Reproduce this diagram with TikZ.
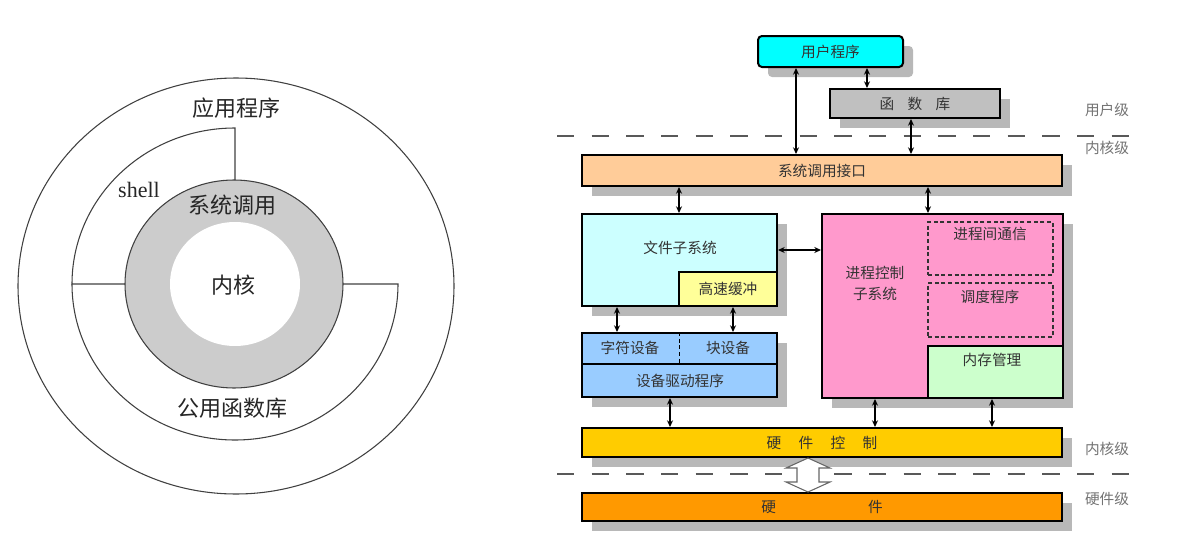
\documentclass[tikz,border=0pt]{standalone}
\usepackage{fontspec}
\setmainfont{Noto Sans CJK SC}
\newfontfamily\serifen{Liberation Serif}
\usetikzlibrary{calc,fit,shadows,arrows.meta}
\definecolor{ringgray}{RGB}{204,204,204}
\definecolor{cuser}{RGB}{0,255,255}
\definecolor{cgray}{RGB}{192,192,192}
\definecolor{cpeach}{RGB}{255,204,153}
\definecolor{clcyan}{RGB}{204,255,255}
\definecolor{cyellow}{RGB}{255,255,153}
\definecolor{cpink}{RGB}{255,153,204}
\definecolor{cgreen}{RGB}{204,255,204}
\definecolor{cblue}{RGB}{153,204,255}
\definecolor{cgold}{RGB}{255,204,0}
\definecolor{corange}{RGB}{255,153,0}
\begin{document}
\begin{tikzpicture}[x=0.75pt,y=-0.75pt,
  box/.style={draw=black, line width=1.5pt, inner sep=0pt},
  shad/.style={drop shadow={shadow xshift=7.5pt,shadow yshift=-7.5pt,fill=black!28,opacity=1}},
  lbl/.style={text=black!80, font=\fontsize{11}{15.75}\selectfont, inner sep=0pt},
  lvl/.style={text=black!55, font=\fontsize{11}{13}\selectfont, inner sep=0pt},
  arr/.style={{Stealth[length=5pt,width=4.5pt]}-{Stealth[length=5pt,width=4.5pt]}, line width=1pt},
  sep/.style={draw=black!65, line width=2.2pt, dash pattern=on 13pt off 13pt},
  dbox/.style={draw=black!80, line width=1.2pt, dash pattern=on 3pt off 2pt, inner sep=0pt},
  ring/.style={draw=black!75, line width=0.8pt},
  big/.style={font=\fontsize{16.5}{18}\selectfont, text=black!85, inner sep=0pt},
  blockarr/.style={draw=black!60, fill=white, line width=0.8pt}
]
\useasboundingbox (0,0) rectangle (1183,546);
% ---------- left: onion diagram ----------
\draw[ring] (236,286) ellipse [x radius=218, y radius=208];
\draw[ring, fill=ringgray] (234,284) ellipse [x radius=109, y radius=104];
\fill[white] (235,284) ellipse [x radius=65, y radius=62];
\draw[ring] (125,284) -- (72,284) arc[start angle=180, end angle=270, x radius=163, y radius=156] -- (235,180);
\draw[ring] (72,284) arc[start angle=180, end angle=0, x radius=163, y radius=156] -- (343,284);
\node[big] (app) at (236,108) {应用程序};
\node[font=\serifen\fontsize{16.5}{18}\selectfont, text=black!85, inner sep=0pt] (shell) at (139,190) {shell};
\node[big] (sys) at (232,205) {系统调用};
\node[big] (kern) at (233,285) {内核};
\node[big] (plib) at (232,408) {公用函数库};
% ---------- right: layered structure ----------
\draw[sep] (557,136) -- (1142,136);
\draw[sep] (557,474) -- (1142,474);
\node[lvl] (l1) at (1107,110) {用户级};
\node[lvl] (l2) at (1107,148) {内核级};
\node[lvl] (l3) at (1107,449) {内核级};
\node[lvl] (l4) at (1107,499) {硬件级};

\node[box, shad, fill=cuser, rounded corners=3pt, fit={(758,36)(903,67)}] (up) {};
\node[lbl] (upt) at (up.center) {用户程序};
\node[box, shad, fill=cgray, fit={(830,89)(1000,118)}] (flib) {};
\node[lbl] (flibt) at (flib.center) {函\hspace{10pt}数\hspace{10pt}库};
\node[box, shad, fill=cpeach, fit={(582,155)(1062,186)}] (sci) {};
\node[lbl] (scit) at (sci.center) {系统调用接口};
\node[box, shad, fill=clcyan, fit={(582,214)(777,306)}] (fs) {};
\node[lbl] (fst) at (680,248) {文件子系统};
\node[box, fill=cyellow, fit={(679,272)(777,306)}] (buf) {};
\node[lbl] (buft) at (buf.center) {高速缓冲};
\node[box, shad, fill=cpink, fit={(822,214)(1063,398)}] (pc) {};
\node[lbl, align=center] (pct) at (875,283) {进程控制\\子系统};
\node[dbox, fit={(928,222)(1053,275)}] (ipc) {};
\node[lbl] (ipct) at (990,234) {进程间通信};
\node[dbox, fit={(928,283)(1053,337)}] (sch) {};
\node[lbl] (scht) at (990,297) {调度程序};
\node[box, fill=cgreen, fit={(928,346)(1063,398)}] (mem) {};
\node[lbl] (memt) at (992,360) {内存管理};
\node[box, shad, fill=cblue, fit={(582,333)(777,397)}] (dev) {};
\draw[line width=1.5pt] (dev.west |- 0,364) -- (dev.east |- 0,364);
\draw[line width=1pt, dash pattern=on 3pt off 2pt] (dev.north) -- (dev.north |- 0,364);
\node[lbl] (chr) at (630,348) {字符设备};
\node[lbl] (blk) at (728,348) {块设备};
\node[lbl] (drv) at (680,381) {设备驱动程序};
\node[box, shad, fill=cgold, fit={(582,428)(1062,457)}] (hc) {};
\node[lbl] (hct) at (hc.center) {硬\hspace{13pt}件\hspace{13pt}控\hspace{13pt}制};
\node[box, shad, fill=corange, fit={(582,493)(1062,521)}] (hw) {};
\node[lbl] (hwt) at (hw.center) {硬\hspace{69pt}件};

\draw[arr] (up.south -| 867,0) -- (flib.north -| 867,0);
\draw[arr] (up.south -| 796,0) -- (sci.north -| 796,0);
\draw[arr] (flib.south -| 911,0) -- (sci.north -| 911,0);
\draw[arr] (sci.south -| 679,0) -- (fs.north -| 679,0);
\draw[arr] (sci.south -| 928,0) -- (pc.north -| 928,0);
\draw[arr] (fs.east |- 0,250) -- (pc.west |- 0,250);
\draw[arr] (fs.south -| 617,0) -- (dev.north -| 617,0);
\draw[arr] (buf.south -| 733,0) -- (dev.north -| 733,0);
\draw[arr] (dev.south -| 670,0) -- (hc.north -| 670,0);
\draw[arr] (pc.south -| 875,0) -- (hc.north -| 875,0);
\draw[arr] (mem.south -| 992,0) -- (hc.north -| 992,0);
\draw[blockarr] (hc.south -| 808,0) -- ++(22,10) -- ++(-11,0) -- ++(0,14) -- ++(11,0) -- (hw.north -| 808,0) -- ++(-22,-10) -- ++(11,0) -- ++(0,-14) -- ++(-11,0) -- cycle;
\end{tikzpicture}
\end{document}
